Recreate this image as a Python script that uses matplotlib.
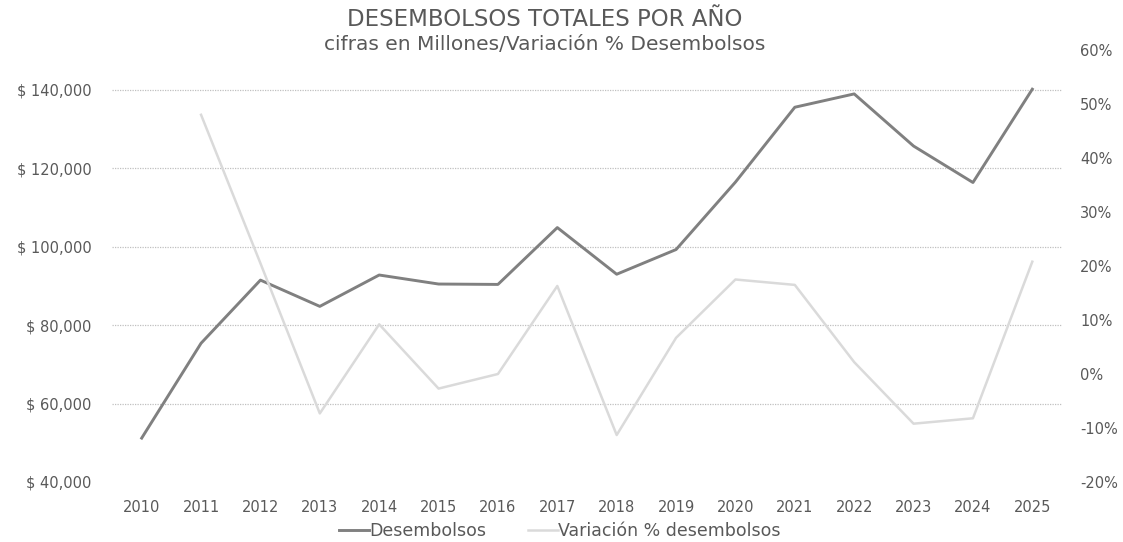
import matplotlib
matplotlib.use("Agg")
import matplotlib.pyplot as plt
from matplotlib.ticker import FuncFormatter

years = ["2010", "2011", "2012", "2013", "2014", "2015", "2016", "2017",
         "2018", "2019", "2020", "2021", "2022", "2023", "2024", "2025"]
desembolsos = [51200, 75400, 91500, 84800, 92800, 90500, 90400, 104900,
               93000, 99300, 116500, 135600, 139000, 125700, 116400, 140200]
variacion = [None, 48.0, 20.5, -7.3, 9.2, -2.7, 0.0, 16.3,
             -11.3, 6.7, 17.5, 16.5, 2.2, -9.2, -8.2, 20.8]
left_ticks = [40000, 60000, 80000, 100000, 120000, 140000]
right_ticks = [-20, -10, 0, 10, 20, 30, 40, 50, 60]

title = "DESEMBOLSOS TOTALES POR AÑO"
subtitle = "cifras en Millones/Variación % Desembolsos"

TXT = "#595959"
DARK = "#808080"
LIGHT = "#dadada"
GRID = "#c0c0c0"

plt.rcParams["font.family"] = ["DejaVu Sans"]

W, H = 1123, 542
fig = plt.figure(figsize=(W / 100, H / 100), dpi=100)
L, R, T, B = 112, 1062, 50, 482
ax = fig.add_axes([L / W, 1 - B / H, (R - L) / W, (B - T) / H])
ax2 = ax.twinx()

x = list(range(len(years)))
ax.plot(x, desembolsos, color=DARK, lw=2.1, label="Desembolsos", zorder=3)
xv = [i for i, v in zip(x, variacion) if v is not None]
vv = [v for v in variacion if v is not None]
ax2.plot(xv, vv, color=LIGHT, lw=1.8, label="Variación % desembolsos", zorder=3)

ax.set_xlim(-0.5, len(years) - 0.5)
ax.set_ylim(40000, 150200)
ax.set_yticks(left_ticks)
ax.yaxis.set_major_formatter(FuncFormatter(lambda v, p: "$ {:,.0f}".format(v)))
ax2.set_ylim(-20, 60)
ax2.set_yticks(right_ticks)
ax2.yaxis.set_major_formatter(FuncFormatter(lambda v, p: "{:.0f}%".format(v)))

ax.set_xticks(x)
ax.set_xticklabels(years)

for a in (ax, ax2):
    for s in a.spines.values():
        s.set_visible(False)
    a.tick_params(length=0, colors=TXT, labelsize=10.5)
ax.tick_params(axis="y", pad=14.5)
ax2.tick_params(axis="y", pad=13)
ax.tick_params(axis="x", pad=13)

for v in left_ticks[1:]:
    ax.axhline(v, color=GRID, lw=0.9, ls=(0, (1, 1)), zorder=1)

fig.text(545 / W, 1 - 25.5 / H, title, ha="center", va="baseline",
         fontsize=16.5, color=TXT)
fig.text(545 / W, 1 - 50 / H, subtitle, ha="center", va="baseline",
         fontsize=14.5, color=TXT)

h1, l1 = ax.get_legend_handles_labels()
h2, l2 = ax2.get_legend_handles_labels()
fig.legend(h1 + h2, l1 + l2, loc="center", bbox_to_anchor=(560 / W, 1 - 531 / H),
           ncol=2, frameon=False, fontsize=12.5, labelcolor=TXT,
           handlelength=1.7, handletextpad=0.05, columnspacing=2.4)

fig.savefig("out.png", dpi=100, facecolor="white")
